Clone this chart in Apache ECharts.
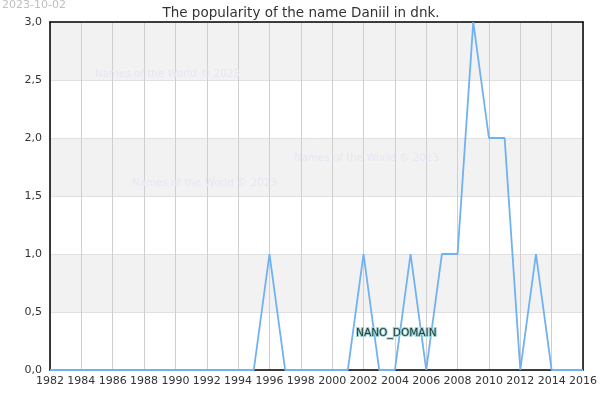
<!DOCTYPE html>
<html>
<head>
<meta charset="utf-8">
<script src="https://cdn.jsdelivr.net/npm/echarts@6/dist/echarts.min.js"></script>
<style>
  html, body { margin: 0; padding: 0; background: #fff; }
  #chart { width: 600px; height: 400px; }
</style>
</head>
<body>
<div id="chart"></div>
<script>
const years = [1982, 1983, 1984, 1985, 1986, 1987, 1988, 1989, 1990, 1991, 1992, 1993, 1994, 1995,
  1996, 1997, 1998, 1999, 2000, 2001, 2002, 2003, 2004, 2005, 2006, 2007, 2008, 2009, 2010,
  2011, 2012, 2013, 2014, 2015, 2016]
const counts = [0, 0, 0, 0, 0, 0, 0, 0, 0, 0, 0, 0, 0, 0,
  1, 0, 0, 0, 0, 0, 1, 0, 0, 1, 0, 1, 1, 3, 2,
  2, 0, 1, 0, 0, 0]
const titleText = 'The popularity of the name Daniil in dnk.'
const dateText = '2023-10-02'
const watermark = 'Names of the World \u00a9 2023'

const chart = echarts.init(document.getElementById('chart'))
const font = 'DejaVu Sans'
const wm = (x, y) => ({
  type: 'text', left: x, top: y, z: 5,
  style: { text: watermark, fill: '#e6e6f5', font: '10.3px "DejaVu Sans"' }
})

chart.setOption({
  animation: false,
  title: {
    text: titleText,
    left: 296,
    textAlign: 'center',
    top: 1,
    textStyle: { fontFamily: font, fontSize: 13.5, fontWeight: 'normal', color: '#333' }
  },
  graphic: [
    { type: 'text', left: 2, top: 0, style: { text: dateText, fill: '#c0c0c0', font: '11px "DejaVu Sans"' } },
    wm(95, 69),
    wm(132, 178),
    wm(294, 153),
    {
      type: 'text', left: 355, top: 327, z: 20,
      style: {
        text: 'NANO_DOMAIN', fill: '#1d3a3a', stroke: '#9fd3d3', lineWidth: 2,
        font: '10.6px "DejaVu Sans"'
      }
    }
  ],
  grid: { left: 50, right: 14, top: 22, bottom: 30 },
  xAxis: [{
    type: 'value',
    min: 1982,
    max: 2016,
    interval: 2,
    axisLine: { show: true, lineStyle: { color: '#000', width: 1.5 } },
    axisTick: { show: false },
    axisLabel: { fontFamily: font, fontSize: 11, color: '#333', margin: 6, formatter: v => String(v) },
    splitLine: { show: true, lineStyle: { color: '#cfcfcf', width: 1 } }
  }, {
    type: 'value',
    position: 'top',
    min: 1982,
    max: 2016,
    axisLine: { show: true, onZero: false, lineStyle: { color: '#000', width: 1.5 } },
    axisTick: { show: false },
    axisLabel: { show: false },
    splitLine: { show: false }
  }],
  yAxis: [{
    type: 'value',
    min: 0,
    max: 3,
    interval: 0.5,
    axisLine: { show: true, lineStyle: { color: '#000', width: 1.5 } },
    axisTick: { show: false },
    axisLabel: {
      fontFamily: font, fontSize: 11, color: '#333', margin: 8,
      formatter: v => v.toFixed(1).replace('.', ',')
    },
    splitLine: { show: true, lineStyle: { color: '#e0e0e0', width: 1 } },
    splitArea: { show: true, areaStyle: { color: ['#ffffff', '#f2f2f2'] } }
  }, {
    type: 'value',
    position: 'right',
    min: 0,
    max: 3,
    axisLine: { show: true, onZero: false, lineStyle: { color: '#000', width: 1.5 } },
    axisTick: { show: false },
    axisLabel: { show: false },
    splitLine: { show: false }
  }],
  series: [{
    type: 'line',
    data: years.map((y, i) => [y, counts[i]]),
    showSymbol: false,
    lineStyle: { color: '#6fb1f2', width: 1.8 },
    itemStyle: { color: '#6fb1f2' },
    z: 10
  }]
})
</script>
</body>
</html>
